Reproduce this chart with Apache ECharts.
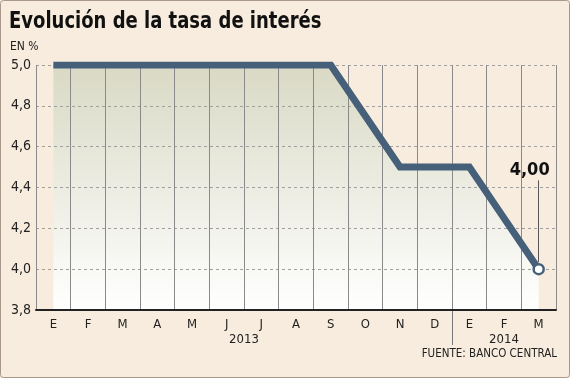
<!DOCTYPE html>
<html>
<head>
<meta charset="utf-8">
<title>Evolución de la tasa de interés</title>
<script src="https://cdn.jsdelivr.net/npm/echarts@6/dist/echarts.min.js"></script>
<style>
  html, body { margin: 0; padding: 0; background: #f7ecdd; }
  #main { width: 570px; height: 378px; }
</style>
</head>
<body>
<div id="main"></div>
<script>
    // meses (2013: E..D, 2014: E..M)
    var meses = ['E', 'F', 'M', 'A', 'M', 'J', 'J', 'A', 'S', 'O', 'N', 'D', 'E', 'F', 'M'];
    var tasa = [5.0, 5.0, 5.0, 5.0, 5.0, 5.0, 5.0, 5.0, 5.0, 4.75, 4.5, 4.5, 4.5, 4.25, 4.0];
    var anios = ['2013', '2014'];
    var ultimoValor = '4,00';

    var oscuro = '#46607a';
    var fuente = '"DejaVu Sans Condensed", "DejaVu Sans", sans-serif';

    var myChart = echarts.init(document.getElementById('main'));

    var datos = tasa.map(function (v, i) {
        if (i === tasa.length - 1) {
            return {
                value: v,
                symbol: 'circle',
                symbolSize: 10,
                itemStyle: { color: '#fff', borderColor: oscuro, borderWidth: 2.5 },
                label: {
                    show: true, position: 'top', distance: 84, offset: [-9, 0],
                    formatter: ultimoValor,
                    fontFamily: fuente, fontWeight: 'bold', fontSize: 18, color: '#111'
                }
            };
        }
        return { value: v, symbol: 'none' };
    });

    myChart.setOption({
        backgroundColor: '#f7ecdd',
        animation: false,
        grid: { left: 36, right: 14, top: 65, bottom: 68 },
        xAxis: {
            type: 'category',
            data: meses,
            boundaryGap: true,
            z: 2,
            axisLine: { lineStyle: { color: '#222', width: 2 } },
            axisTick: { show: false },
            axisLabel: { fontFamily: fuente, fontSize: 13, color: '#222', margin: 8 },
            splitLine: { show: true, lineStyle: { color: '#8a8a8a', width: 1 } }
        },
        yAxis: {
            type: 'value',
            min: 3.8, max: 5.0, interval: 0.2,
            z: 2,
            axisLine: { show: false },
            axisTick: { show: false },
            axisLabel: {
                fontFamily: fuente, fontSize: 14, color: '#222', margin: 5,
                formatter: function (v) { return v.toFixed(1).replace('.', ','); }
            },
            splitLine: { lineStyle: { color: '#a0a0a0', type: [3, 3], width: 1 } }
        },
        series: [{
            // relleno bajo la curva
            type: 'line',
            data: tasa,
            symbol: 'none',
            lineStyle: { width: 0 },
            areaStyle: {
                origin: 'start',
                opacity: 1,
                color: new echarts.graphic.LinearGradient(0, 0, 0, 1, [
                    { offset: 0, color: '#d9d9c5' },
                    { offset: 1, color: '#ffffff' }
                ])
            },
            silent: true,
            z: 1
        }, {
            type: 'line',
            data: datos,
            lineStyle: { color: oscuro, width: 7, join: 'miter' },
            itemStyle: { color: oscuro },
            markLine: {
                silent: true,
                symbol: 'none',
                label: { show: false },
                lineStyle: { color: '#555', width: 1, type: 'solid' },
                data: [[{ coord: [14, 4.035] }, { coord: [14, 4.435] }]]
            },
            z: 3
        }]
    });

    // etiquetas de año y separador bajo el eje
    var px = function (i) { return myChart.convertToPixel({ xAxisIndex: 0 }, i); };
    var yEje = myChart.convertToPixel({ yAxisIndex: 0 }, 3.8);
    var x2013 = (px(5) + px(6)) / 2;
    var x2014 = px(13);
    var xSep = Math.round((px(11) + px(12)) / 2) + 0.5;

    myChart.setOption({
        graphic: [
            {
                type: 'rect', silent: true,
                shape: { x: 0.5, y: 0.5, width: 569, height: 377, r: 3 },
                style: { fill: 'none', stroke: '#a8978a', lineWidth: 1 }
            },
            {
                // titulo (estrechado como en el original)
                type: 'text', silent: true, x: 9, y: 11, scaleX: 0.87,
                style: { text: 'Evolución de la tasa de interés', fontFamily: fuente, fontWeight: 'bold', fontSize: 23, fill: '#111' }
            },
            {
                type: 'text', silent: true, x: 10, y: 41,
                style: { text: 'EN %', fontFamily: fuente, fontSize: 12, fill: '#222' }
            },
            {
                type: 'line', silent: true,
                shape: { x1: xSep, y1: yEje, x2: xSep, y2: yEje + 35 },
                style: { stroke: '#777', lineWidth: 1 }
            },
            {
                type: 'text', silent: true, x: x2013, y: yEje + 30,
                style: { text: anios[0], fontFamily: fuente, fontSize: 13, fill: '#222', align: 'center', verticalAlign: 'middle' }
            },
            {
                type: 'text', silent: true, x: x2014, y: yEje + 30,
                style: { text: anios[1], fontFamily: fuente, fontSize: 13, fill: '#222', align: 'center', verticalAlign: 'middle' }
            },
            {
                type: 'text', silent: true, right: 13, top: 348,
                style: { text: 'FUENTE: BANCO CENTRAL', fontFamily: fuente, fontSize: 11.5, fill: '#222' }
            }
        ]
    });
</script>
</body>
</html>
